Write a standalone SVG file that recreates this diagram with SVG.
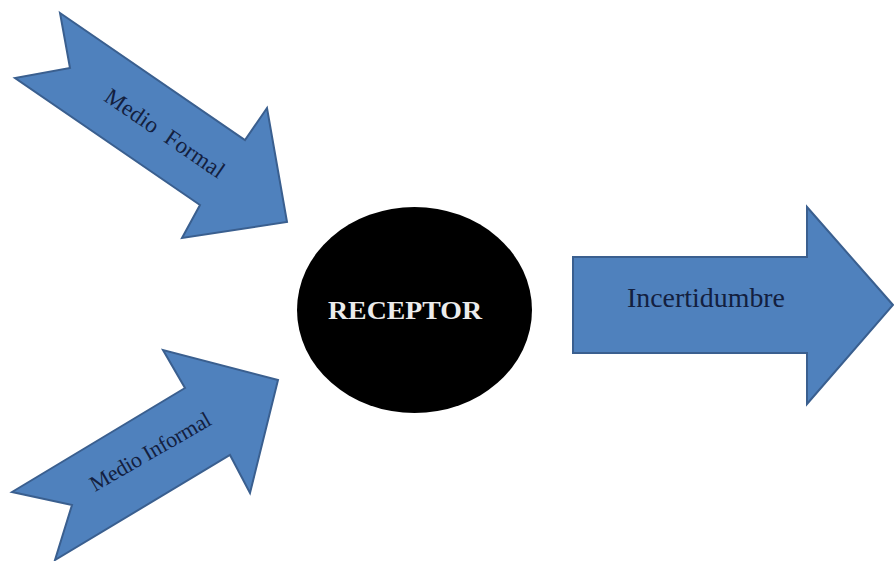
<svg xmlns="http://www.w3.org/2000/svg" width="894" height="561" viewBox="0 0 894 561">
<style>
.arr{fill:#4f81bd;stroke:#3a5f8f;stroke-width:2;stroke-linejoin:miter}
.lbl{font-family:"Liberation Serif","Times New Roman",serif;fill:#13203f}
.rec{font-family:"Liberation Serif","Times New Roman",serif;font-weight:bold;fill:#ececec}
</style>
<rect width="894" height="561" fill="#ffffff"/>
<g id="connectors">
<g id="arrow-formal">
<polygon class="arr" points="60,13 245,140 267,108 287,222 182,238 200,205 15,78 70,68"/>
<text class="lbl" x="165" y="141" font-size="23" text-anchor="middle" textLength="140" lengthAdjust="spacing" transform="rotate(34.5 165 133)" xml:space="preserve">Medio  Formal</text>
</g>
<g id="arrow-informal">
<polygon class="arr" points="12,492 185,388 163,350 278,380 250,493 230,455 55,560 72,505"/>
<text class="lbl" x="150" y="459" font-size="22" text-anchor="middle" textLength="136" lengthAdjust="spacing" transform="rotate(-30 150 451)">Medio Informal</text>
</g>
<g id="arrow-incertidumbre">
<polygon class="arr" points="573,257 807,257 807,207 893,305 807,404 807,353 573,353"/>
<text class="lbl" x="627" y="307" font-size="28" textLength="158" lengthAdjust="spacingAndGlyphs">Incertidumbre</text>
</g>
</g>
<g id="receptor">
<ellipse cx="414.5" cy="310" rx="117.5" ry="103" fill="#000000"/>
<text class="rec" x="328" y="319" font-size="26" textLength="154" lengthAdjust="spacingAndGlyphs">RECEPTOR</text>
</g>
</svg>
